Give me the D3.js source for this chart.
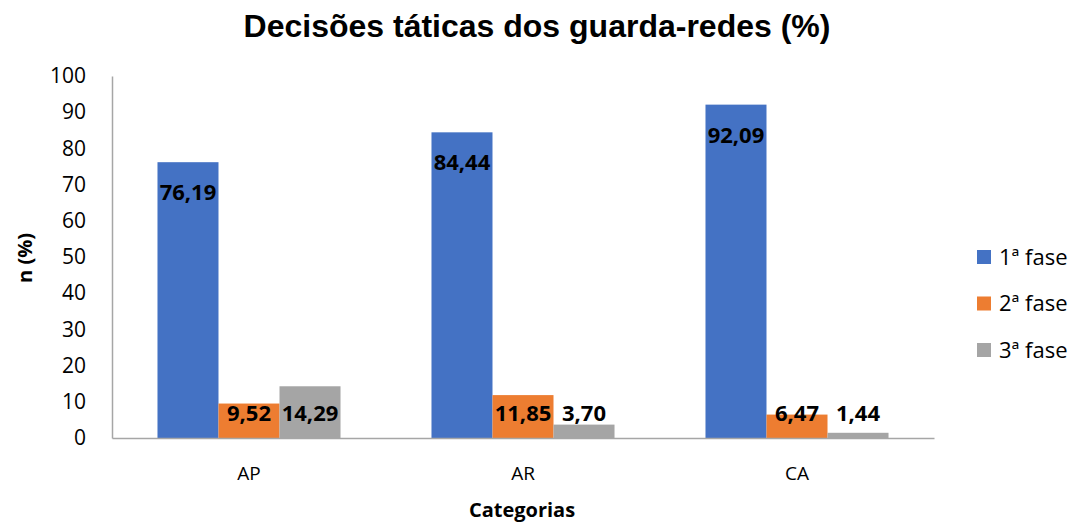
<!DOCTYPE html>
<html>
<head>
<meta charset="utf-8">
<script src="https://cdn.jsdelivr.net/npm/d3@7"></script>
<style>
  body { margin: 0; background: #fff; }
  svg text { font-family: "Open Sans", sans-serif; fill: #000; }
</style>
</head>
<body>
<div id="chart"></div>
<script>
const categories = ['AP', 'AR', 'CA'];
const seriesNames = ['1ª fase', '2ª fase', '3ª fase'];
const fase1 = [76.19, 84.44, 92.09];
const fase2 = [9.52, 11.85, 6.47];
const fase3 = [14.29, 3.70, 1.44];
const yTicks = [0, 10, 20, 30, 40, 50, 60, 70, 80, 90, 100];
const colors = ['#4472C4', '#ED7D31', '#A5A5A5'];

const width = 1077, height = 526;
const plot = { left: 112, right: 934, top: 76, bottom: 438 };

const seriesValues = [fase1, fase2, fase3];
const rows = [];
categories.forEach((c, i) => {
  seriesNames.forEach((s, j) => {
    rows.push({ cat: c, series: s, idx: j, value: seriesValues[j][i] });
  });
});

const svg = d3.select('#chart').append('svg')
  .attr('width', width)
  .attr('height', height);

const x = d3.scaleBand()
  .domain(categories)
  .range([plot.left, plot.right])
  .paddingInner(0.332)
  .paddingOuter(0.166);

const xs = d3.scaleBand()
  .domain(seriesNames)
  .range([0, x.bandwidth()]);

const y = d3.scaleLinear()
  .domain([0, 100])
  .range([plot.bottom, plot.top]);

// title
svg.append('text')
  .attr('x', 537)
  .attr('y', 37)
  .attr('text-anchor', 'middle')
  .style('font-family', '"Liberation Sans", Arial, sans-serif')
  .style('font-weight', 'bold')
  .style('font-size', '32px')
  .text('Decisões táticas dos guarda-redes (%)');

// bars
svg.append('g').selectAll('rect')
  .data(rows)
  .join('rect')
  .attr('x', d => x(d.cat) + xs(d.series))
  .attr('y', d => y(d.value))
  .attr('width', xs.bandwidth())
  .attr('height', d => y(0) - y(d.value))
  .attr('fill', d => colors[d.idx]);

// axes
const yAxis = svg.append('g')
  .attr('transform', 'translate(' + plot.left + ',0)')
  .call(d3.axisLeft(y).tickValues(yTicks).tickSize(0).tickSizeOuter(0).tickPadding(26));
yAxis.select('.domain').attr('stroke', '#A6A6A6').attr('stroke-width', 1.5);
yAxis.selectAll('text')
  .style('font-family', '"Open Sans", sans-serif')
  .style('font-size', '21px')
  .attr('fill', '#000');

const xAxis = svg.append('g')
  .attr('transform', 'translate(0,' + plot.bottom + ')')
  .call(d3.axisBottom(x).tickSize(0).tickSizeOuter(0).tickPadding(29));
xAxis.select('.domain').attr('stroke', '#A6A6A6').attr('stroke-width', 1.5);
xAxis.selectAll('text')
  .style('font-family', '"Open Sans", sans-serif')
  .style('font-size', '19px')
  .attr('fill', '#000');

// data labels
const fmt = v => v.toFixed(2).replace('.', ',');
svg.append('g').selectAll('text')
  .data(rows)
  .join('text')
  .attr('x', d => x(d.cat) + xs(d.series) + xs.bandwidth() / 2)
  .attr('y', d => d.idx === 0 ? y(d.value) + 30 : y(0) - 25)
  .attr('dy', '0.36em')
  .attr('text-anchor', 'middle')
  .style('font-weight', 'bold')
  .style('font-size', '22px')
  .text(d => fmt(d.value));

// axis titles
svg.append('text')
  .attr('transform', 'translate(32,258) rotate(-90)')
  .attr('text-anchor', 'middle')
  .style('font-weight', 'bold')
  .style('font-size', '20px')
  .text('n (%)');

svg.append('text')
  .attr('x', 522)
  .attr('y', 517)
  .attr('text-anchor', 'middle')
  .style('font-weight', 'bold')
  .style('font-size', '20px')
  .text('Categorias');

// legend
const legend = svg.append('g').selectAll('g')
  .data(seriesNames)
  .join('g')
  .attr('transform', (d, i) => 'translate(977,' + (257 + i * 46.5) + ')');
legend.append('rect')
  .attr('x', 0)
  .attr('y', -7)
  .attr('width', 14)
  .attr('height', 14)
  .attr('fill', (d, i) => colors[i]);
legend.append('text')
  .attr('x', 22)
  .attr('dy', '0.36em')
  .style('font-size', '22px')
  .text(d => d);
</script>
</body>
</html>
